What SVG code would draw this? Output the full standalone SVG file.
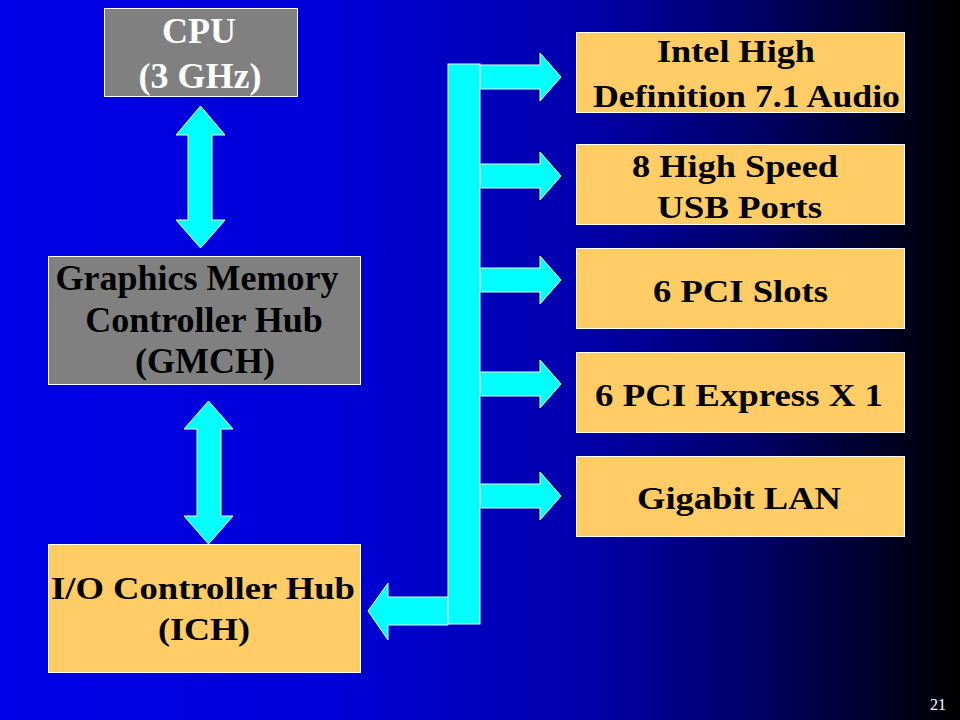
<svg xmlns="http://www.w3.org/2000/svg" width="960" height="720" viewBox="0 0 960 720">
<defs>
<linearGradient id="bg" x1="0" y1="0" x2="1" y2="0">
<stop offset="0" stop-color="#0000E8"/>
<stop offset="0.35" stop-color="#0000D8"/>
<stop offset="0.62" stop-color="#0000A8"/>
<stop offset="0.8" stop-color="#000060"/>
<stop offset="1" stop-color="#000000"/>
</linearGradient>
<style>
.gray{fill:#808080;stroke:#FFFFFF;stroke-width:1}
.org{fill:#FFCC66;stroke:#FFFFFF;stroke-width:1}
.arr{fill:#00FFFF;stroke:#E8FFFF;stroke-width:1}
.t{font-family:"Liberation Serif","Times New Roman",serif;font-weight:bold;font-size:36px}
.tw{fill:#FFFFFF}
.tb{fill:#000000}
.s{font-family:"Liberation Serif","Times New Roman",serif;font-weight:bold;font-size:32px;fill:#000000}
.pg{font-family:"Liberation Serif","Times New Roman",serif;font-size:16px;fill:#FFFFFF}
</style>
</defs>
<rect x="0" y="0" width="960" height="720" fill="url(#bg)"/>

<g id="connectors">
<path class="arr" d="M200.5,106 L225,135 L212,135 L212,220 L225,220 L200.5,248 L176,220 L188,220 L188,135 L176,135 Z"/>
<path class="arr" d="M208.5,401 L233,429 L221,429 L221,516 L233,516 L208.5,544 L184,516 L197,516 L197,429 L184,429 Z"/>
<path class="arr" d="M480,65 L540,65 L540,53 L561,77 L540,101 L540,89 L480,89 Z"/>
<path class="arr" d="M480,164 L540,164 L540,152 L561,176 L540,200 L540,188 L480,188 Z"/>
<path class="arr" d="M480,268 L540,268 L540,256 L561,280 L540,304 L540,292 L480,292 Z"/>
<path class="arr" d="M480,372 L540,372 L540,360 L561,384 L540,408 L540,396 L480,396 Z"/>
<path class="arr" d="M480,484 L540,484 L540,472 L561,496 L540,520 L540,508 L480,508 Z"/>
<path class="arr" d="M448,597 L388,597 L388,583 L368,611 L388,640 L388,625 L448,625 Z"/>
<rect class="arr" x="448" y="64" width="32" height="560"/>
</g>

<g id="cpu">
<rect class="gray" x="104.5" y="8.5" width="193" height="88"/>
<text class="t tw" x="199" y="43" text-anchor="middle">CPU</text>
<text class="t tw" x="200" y="88" text-anchor="middle">(3 GHz)</text>
</g>

<g id="gmch">
<rect class="gray" x="48.5" y="256.5" width="312" height="128"/>
<text class="t tb" x="197" y="290" text-anchor="middle">Graphics Memory</text>
<text class="t tb" x="204" y="332" text-anchor="middle">Controller Hub</text>
<text class="t tb" x="205" y="373" text-anchor="middle">(GMCH)</text>
</g>

<g id="ich">
<rect class="org" x="48.5" y="544.5" width="312" height="128"/>
<text class="s" x="51" y="599" textLength="304" lengthAdjust="spacingAndGlyphs">I/O Controller Hub</text>
<text class="s" x="158" y="640" textLength="92" lengthAdjust="spacingAndGlyphs">(ICH)</text>
</g>

<g id="audio">
<rect class="org" x="576.5" y="32.5" width="328" height="80"/>
<text class="s" x="657" y="62" textLength="158" lengthAdjust="spacingAndGlyphs">Intel High</text>
<text class="s" x="593" y="107" textLength="307" lengthAdjust="spacingAndGlyphs">Definition 7.1 Audio</text>
</g>

<g id="usb">
<rect class="org" x="576.5" y="144.5" width="328" height="80"/>
<text class="s" x="632" y="176.5" textLength="206" lengthAdjust="spacingAndGlyphs">8 High Speed</text>
<text class="s" x="657" y="218" textLength="165" lengthAdjust="spacingAndGlyphs">USB Ports</text>
</g>

<g id="pci">
<rect class="org" x="576.5" y="248.5" width="328" height="80"/>
<text class="s" x="653" y="302" textLength="175" lengthAdjust="spacingAndGlyphs">6 PCI Slots</text>
</g>

<g id="pcie">
<rect class="org" x="576.5" y="352.5" width="328" height="80"/>
<text class="s" x="595" y="405.5" textLength="288" lengthAdjust="spacingAndGlyphs">6 PCI Express X 1</text>
</g>

<g id="lan">
<rect class="org" x="576.5" y="456.5" width="328" height="80"/>
<text class="s" x="637" y="509" textLength="204" lengthAdjust="spacingAndGlyphs">Gigabit LAN</text>
</g>

<text class="pg" x="930" y="710">21</text>
</svg>
